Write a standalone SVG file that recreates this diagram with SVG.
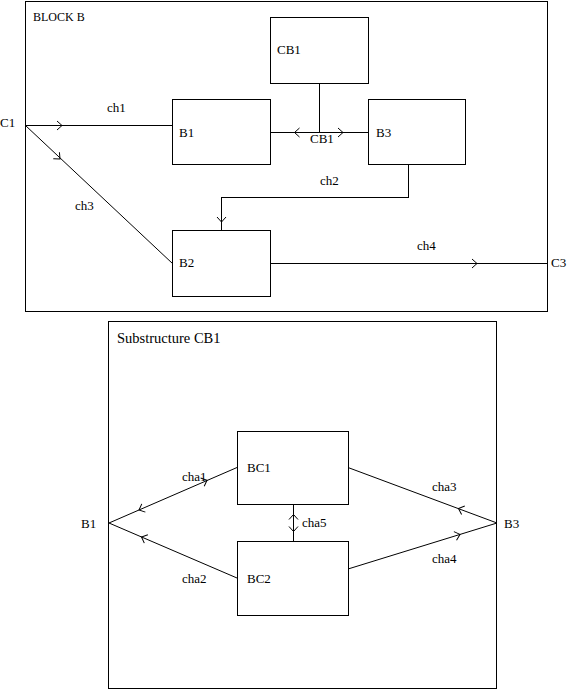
<svg xmlns="http://www.w3.org/2000/svg" xmlns:xlink="http://www.w3.org/1999/xlink" width="587" height="689" viewBox="0 0 587 689">
<style>
.box{fill:none;stroke:#000;stroke-width:1;shape-rendering:crispEdges}
.ln{fill:none;stroke:#000;stroke-width:1}
.hv{shape-rendering:crispEdges}
text{font-family:"Liberation Serif","Times New Roman",serif;font-size:13px;fill:#000}
.title{font-size:12px}
.sub{font-size:14.5px}
</style>
<defs>
<path id="chev" d="M-5,-4.5 L0,0 L-5,4.5" fill="none" stroke="#000" stroke-width="1"/>
</defs>
<rect width="587" height="689" fill="#fff"/>
<g id="blockB">
<rect class="box" x="25.5" y="1.5" width="522" height="310"/>
<text class="title" x="33" y="21">BLOCK B</text>
</g>
<g id="substructureCB1">
<rect class="box" x="108.5" y="321.5" width="388" height="367"/>
<text class="sub" x="117" y="343">Substructure CB1</text>
</g>
<g id="connectors">
<path id="ch1" class="ln hv" d="M25.5,125.5 H172.5"/>
<path id="ch3" class="ln" d="M25.5,125.5 L172.5,263.5"/>
<path id="cb1conn" class="ln hv" d="M270.5,132.5 H368.5 M319.5,83.5 V132.5"/>
<path id="ch2" class="ln hv" d="M408.5,164.5 V197.5 H221.5 V230.5"/>
<path id="ch4" class="ln hv" d="M270.5,263.5 H547.5"/>
<path id="cha1" class="ln" d="M109,523 L237,467.5"/>
<path id="cha2" class="ln" d="M109,523 L237,578"/>
<path id="cha3" class="ln" d="M497,523 L348,467.5"/>
<path id="cha4" class="ln" d="M497,523 L348,569"/>
<path id="cha5" class="ln hv" d="M293.5,504.5 V541.5"/>
<use xlink:href="#chev" href="#chev" transform="translate(62,125.5)"/>
<use xlink:href="#chev" href="#chev" transform="translate(60,159) rotate(43.2)"/>
<use xlink:href="#chev" href="#chev" transform="translate(294.5,132.5) rotate(180)"/>
<use xlink:href="#chev" href="#chev" transform="translate(343,132.5)"/>
<use xlink:href="#chev" href="#chev" transform="translate(221.5,222) rotate(90)"/>
<use xlink:href="#chev" href="#chev" transform="translate(477,263.5)"/>
<use xlink:href="#chev" href="#chev" transform="translate(139,510) rotate(156.4)"/>
<use xlink:href="#chev" href="#chev" transform="translate(207,480.2) rotate(-23.6)"/>
<use xlink:href="#chev" href="#chev" transform="translate(141.5,537) rotate(203.3)"/>
<use xlink:href="#chev" href="#chev" transform="translate(458.5,508.5) rotate(200.6)"/>
<use xlink:href="#chev" href="#chev" transform="translate(460,534.4) rotate(-17.2)"/>
<use xlink:href="#chev" href="#chev" transform="translate(293.5,514.5) rotate(-90)"/>
<use xlink:href="#chev" href="#chev" transform="translate(293.5,531.5) rotate(90)"/>
<text x="0" y="127">C1</text>
<text x="107" y="112">ch1</text>
<text x="75" y="210">ch3</text>
<text x="310" y="143">CB1</text>
<text x="320" y="185">ch2</text>
<text x="417" y="250">ch4</text>
<text x="551" y="267">C3</text>
<text x="81" y="528">B1</text>
<text x="504" y="528">B3</text>
<text x="182" y="481">cha1</text>
<text x="182" y="583">cha2</text>
<text x="432" y="491">cha3</text>
<text x="432" y="563">cha4</text>
<text x="302" y="527">cha5</text>
</g>
<g id="CB1">
<rect class="box" x="270.5" y="17.5" width="98" height="66"/>
<text x="277" y="54">CB1</text>
</g>
<g id="B1">
<rect class="box" x="172.5" y="99.5" width="98" height="65"/>
<text x="179" y="137">B1</text>
</g>
<g id="B3">
<rect class="box" x="368.5" y="99.5" width="97" height="65"/>
<text x="376" y="137">B3</text>
</g>
<g id="B2">
<rect class="box" x="172.5" y="230.5" width="98" height="66"/>
<text x="179" y="267">B2</text>
</g>
<g id="BC1">
<rect class="box" x="237.5" y="431.5" width="111" height="73"/>
<text x="247" y="472">BC1</text>
</g>
<g id="BC2">
<rect class="box" x="237.5" y="541.5" width="111" height="74"/>
<text x="247" y="583">BC2</text>
</g>
</svg>
